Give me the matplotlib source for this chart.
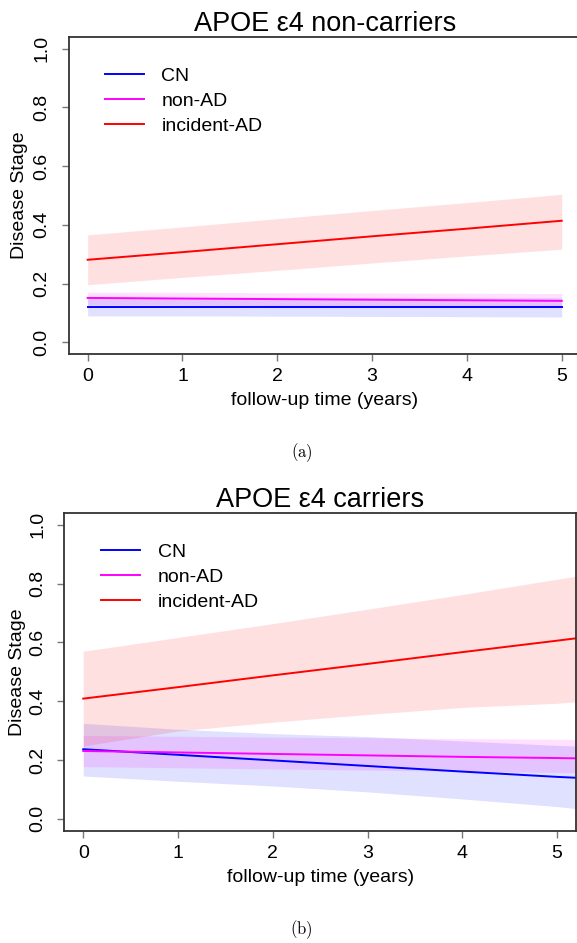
import numpy as np
import matplotlib
matplotlib.use('Agg')
import matplotlib.pyplot as plt

plt.rcParams['font.family'] = ['Liberation Sans', 'DejaVu Sans']
plt.rcParams['mathtext.fontset'] = 'cm'

TITLES = ['APOE \u03b54 non-carriers', 'APOE \u03b54 carriers']
GROUPS = ['CN', 'non-AD', 'incident-AD']
COLORS = ['#0000ff', '#ff00ff', '#ff0000']
XLABEL = 'follow-up time (years)'
YLABEL = 'Disease Stage'

# (a) non-carriers, values read at each year
t_a = [0, 1, 2, 3, 4, 5]
cn_a = [0.119, 0.119, 0.119, 0.119, 0.119, 0.119]
cn_a_lo = [0.090, 0.090, 0.089, 0.088, 0.087, 0.086]
cn_a_hi = [0.150, 0.150, 0.150, 0.151, 0.151, 0.152]
nonad_a = [0.151, 0.149, 0.147, 0.145, 0.143, 0.141]
nonad_a_lo = [0.128, 0.127, 0.125, 0.123, 0.121, 0.119]
nonad_a_hi = [0.171, 0.170, 0.169, 0.168, 0.167, 0.166]
ad_a = [0.281, 0.307, 0.334, 0.361, 0.387, 0.414]
ad_a_lo = [0.196, 0.221, 0.245, 0.270, 0.294, 0.317]
ad_a_hi = [0.366, 0.393, 0.421, 0.449, 0.476, 0.504]

# (b) carriers
t_b = [0, 1, 2, 3, 4, 5, 5.2]
cn_b = [0.237, 0.218, 0.199, 0.180, 0.161, 0.143, 0.140]
cn_b_lo = [0.146, 0.128, 0.112, 0.092, 0.068, 0.042, 0.035]
cn_b_hi = [0.325, 0.305, 0.290, 0.280, 0.265, 0.250, 0.248]
nonad_b = [0.231, 0.226, 0.221, 0.216, 0.211, 0.207, 0.206]
nonad_b_lo = [0.178, 0.174, 0.170, 0.166, 0.162, 0.158, 0.157]
nonad_b_hi = [0.284, 0.281, 0.278, 0.276, 0.273, 0.271, 0.270]
ad_b = [0.409, 0.448, 0.488, 0.527, 0.567, 0.606, 0.614]
ad_b_lo = [0.248, 0.299, 0.329, 0.355, 0.379, 0.393, 0.398]
ad_b_hi = [0.570, 0.617, 0.664, 0.713, 0.763, 0.815, 0.825]

panels = [
    (t_a, [(cn_a, cn_a_lo, cn_a_hi), (nonad_a, nonad_a_lo, nonad_a_hi), (ad_a, ad_a_lo, ad_a_hi)]),
    (t_b, [(cn_b, cn_b_lo, cn_b_hi), (nonad_b, nonad_b_lo, nonad_b_hi), (ad_b, ad_b_lo, ad_b_hi)]),
]

W, H = 577, 943
fig = plt.figure(figsize=(W / 100, H / 100), dpi=100)
# axes boxes in pixels: left, top, right, bottom
boxes = [(68.7, 37, 580.7, 354), (64.3, 513, 576, 830.7)]
legend_anchor = [(0.071, 0.905), (0.072, 0.905)]
ylabel_x = [20, 18]  # centre of the y label, pixels from the left
captions = [('(a)', 1 - 453 / H), ('(b)', 1 - 930 / H)]

for i, (t, series) in enumerate(panels):
    l, tp, r, b = boxes[i]
    ax = fig.add_axes([l / W, 1 - b / H, (r - l) / W, (b - tp) / H])
    for (y, lo, hi), c, name in zip(series, COLORS, GROUPS):
        ax.fill_between(t, lo, hi, color=c, alpha=0.12, linewidth=0)
    for (y, lo, hi), c, name in zip(series, COLORS, GROUPS):
        ax.plot(t, y, color=c, lw=1.4, label=name)
    ax.set_xlim(-0.2, 5.2)
    ax.set_ylim(-0.04, 1.04)
    ax.set_xticks(range(6))
    ax.set_yticks([0.0, 0.2, 0.4, 0.6, 0.8, 1.0])
    ax.set_yticklabels(['0.0', '0.2', '0.4', '0.6', '0.8', '1.0'])
    ax.tick_params(axis='both', labelsize=14, length=5, width=1, color='#777777')
    ax.tick_params(axis='x', pad=5)
    ax.tick_params(axis='y', pad=8)
    plt.setp(ax.get_yticklabels(), rotation=90, va='center')
    for s in ax.spines.values():
        s.set_color('#333333')
        s.set_linewidth(1.3)
    ax.set_title(TITLES[i], fontsize=19.5, pad=4)
    ax.set_xlabel(XLABEL, fontsize=14, labelpad=5)
    ax.set_ylabel(YLABEL, fontsize=14)
    ax.yaxis.label.set_va('center')
    ax.yaxis.set_label_coords((ylabel_x[i] - l) / (r - l), 0.5)
    ax.legend(loc='upper left', bbox_to_anchor=legend_anchor[i], frameon=False,
              fontsize=14, handlelength=2.0, handletextpad=0.9, labelspacing=0.38,
              borderpad=0, borderaxespad=0)
    fig.text(0.523, captions[i][1], r'$\mathrm{' + captions[i][0] + '}$',
             ha='center', va='center', fontsize=12)

fig.savefig('out.png', dpi=100)
